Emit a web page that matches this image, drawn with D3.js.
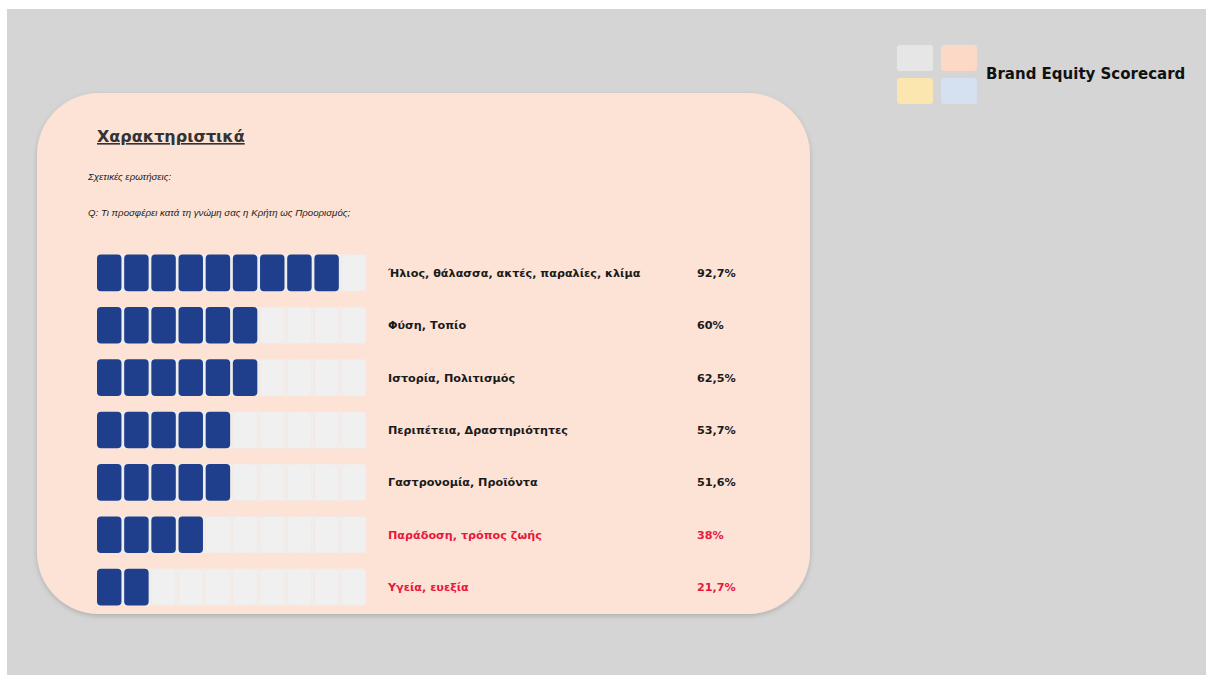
<!DOCTYPE html>
<html><head><meta charset="utf-8">
<script src="https://cdn.jsdelivr.net/npm/d3@7"></script>
<style>html,body{margin:0;padding:0;background:#fff;}svg{display:block;}</style>
</head><body>
<script>
const categories = ["Ήλιος, θάλασσα, ακτές, παραλίες, κλίμα","Φύση, Τοπίο","Ιστορία, Πολιτισμός","Περιπέτεια, Δραστηριότητες","Γαστρονομία, Προϊόντα","Παράδοση, τρόπος ζωής","Υγεία, ευεξία"];
const values = [92.7, 60, 62.5, 53.7, 51.6, 38, 21.7];
const valueLabels = ["92,7%","60%","62,5%","53,7%","51,6%","38%","21,7%"];
const highlighted = [false,false,false,false,false,true,true];
const segments = d3.range(10);

const W=1206,H=675;
const svg=d3.select("body").append("svg").attr("width",W).attr("height",H);
const defs=svg.append("defs");
const f=defs.append("filter").attr("id","sh").attr("x","-10%").attr("y","-10%").attr("width","120%").attr("height","120%");
f.append("feDropShadow").attr("dx",0).attr("dy",2).attr("stdDeviation",2.5).attr("flood-color","#000").attr("flood-opacity",0.18);

svg.append("rect").attr("x",7).attr("y",9).attr("width",W-7).attr("height",H-9).attr("fill","#d5d5d5");

const fb="DejaVu Sans, Verdana, sans-serif";
const ff="Liberation Sans, Arial, sans-serif";

// logo
const logo=[["#e6e6e6",897,45],["#fbd9c6",941,45],["#fbe6b0",897,78],["#d5e1f1",941,78]];
svg.selectAll("rect.logo").data(logo).join("rect").attr("class","logo")
 .attr("x",d=>d[1]).attr("y",d=>d[2]).attr("width",36).attr("height",26).attr("rx",3).attr("fill",d=>d[0]);
svg.append("text").attr("x",986).attr("y",79).text("Brand Equity Scorecard")
 .attr("font-family",fb).attr("font-weight","bold").attr("font-size",15).attr("fill","#111");

// card
svg.append("rect").attr("x",37).attr("y",93).attr("width",773).attr("height",521).attr("rx",62).attr("ry",62)
 .attr("fill","#fde3d6").attr("filter","url(#sh)");

svg.append("text").attr("x",97).attr("y",142).text("Χαρακτηριστικά").attr("font-family",fb).attr("font-weight","bold").attr("font-size",16).attr("fill","#333")
 .attr("text-decoration","underline");
svg.append("text").attr("x",88).attr("y",180).text("Σχετικές ερωτήσεις:").attr("font-family",ff).attr("font-style","italic").attr("font-size",9.7).attr("fill","#1a1a1a");
svg.append("text").attr("x",88).attr("y",216).text("Q: Τι προσφέρει κατά τη γνώμη σας η Κρήτη ως Προορισμός;").attr("font-family",ff).attr("font-style","italic").attr("font-size",9.7).attr("fill","#1a1a1a");

const y=d3.scaleBand().domain(categories).range([252,608]).paddingInner(0.3).paddingOuter(0.05);
const x=d3.scaleBand().domain(segments).range([97,366]).paddingInner(0.1);

const rows=svg.selectAll("g.row").data(categories).join("g").attr("class","row")
 .attr("transform",c=>`translate(0,${y(c)})`);
rows.append("rect").attr("x",x(0)).attr("width",x.range()[1]-x(0)).attr("height",y.bandwidth()).attr("fill","#f0eeed");
rows.each(function(c,i){
  const n=Math.round(values[i]/10);
  d3.select(this).selectAll("rect.seg").data(segments).join("rect").attr("class","seg")
   .attr("x",s=>x(s)).attr("width",x.bandwidth()).attr("height",y.bandwidth()).attr("rx",4)
   .attr("fill",s=>s<n?"#1f3f8c":"#f1f0f0")
   .attr("stroke",s=>s<n?"none":"#f5e6df").attr("stroke-width",0.8);
});
rows.append("text").attr("x",388).attr("y",y.bandwidth()/2+4).text(c=>c)
 .attr("font-family",fb).attr("font-weight","bold").attr("font-size",11.2)
 .attr("fill",(c,i)=>highlighted[i]?"#e8183c":"#1a1a1a");
rows.append("text").attr("x",697).attr("y",y.bandwidth()/2+4).text((c,i)=>valueLabels[i])
 .attr("font-family",fb).attr("font-weight","bold").attr("font-size",11.2)
 .attr("fill",(c,i)=>highlighted[i]?"#e8183c":"#1a1a1a");
</script>
</body></html>
